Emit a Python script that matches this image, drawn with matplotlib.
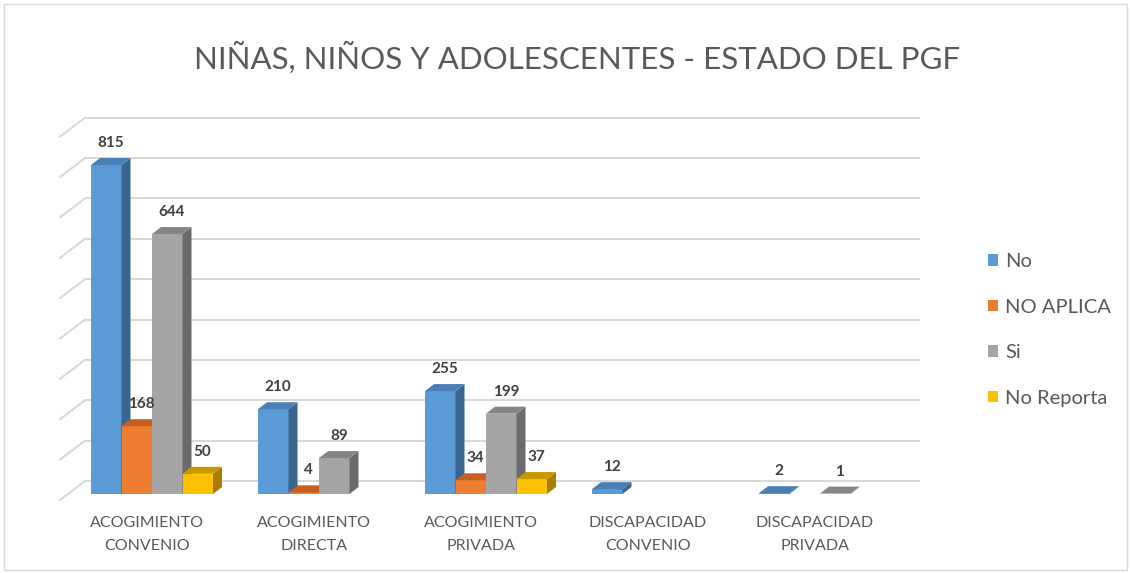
import numpy as np
import matplotlib.pyplot as plt
from matplotlib.patches import Polygon, Rectangle, Patch

# data
categories = [("ACOGIMIENTO", "CONVENIO"), ("ACOGIMIENTO", "DIRECTA"),
              ("ACOGIMIENTO", "PRIVADA"), ("DISCAPACIDAD", "CONVENIO"),
              ("DISCAPACIDAD", "PRIVADA")]
series_names = ["No", "NO APLICA", "Si", "No Reporta"]
no = [815, 210, 255, 12, 2]
no_aplica = [168, 4, 34, 0, 0]
si = [644, 89, 199, 0, 1]
no_reporta = [50, 0, 37, 0, 0]
y_ticks = np.arange(0, 901, 100)
title = "NIÑAS, NIÑOS Y ADOLESCENTES - ESTADO DEL PGF"

series = [no, no_aplica, si, no_reporta]
front_colors = ["#5b9bd5", "#ed7d31", "#a5a5a5", "#ffc000"]
top_colors = ["#4a7fb5", "#c55f1f", "#858585", "#c99700"]
side_colors = ["#3a6590", "#a84f12", "#6b6b6b", "#a87e00"]
text_col = "#595959"

W, H = 1131, 573
fig = plt.figure(figsize=(W / 100, H / 100), dpi=100)

# front plane of the plot, in pixels from top-left
left_px, right_px = 68.5, 903.5
base_px, top_px = 494.0, 130.7
ax = fig.add_axes([left_px / W, 1 - base_px / H,
                   (right_px - left_px) / W, (base_px - top_px) / H])
ax.set_xlim(-0.5, len(categories) - 0.5)
ax.set_ylim(0, 900)
ax.axis("off")

kx = (right_px - left_px) / len(categories)   # px per category
ky = (base_px - top_px) / 900.0                # px per unit

# back wall gridlines + left side wall slant
back_up = 13 / ky
x_back_l = (85 - left_px) / kx - 0.5
x_back_r = (920 - left_px) / kx - 0.5
x_side = (60 - left_px) / kx - 0.5
for v in y_ticks:
    yb = v + back_up
    ax.plot([x_back_l, x_back_r], [yb, yb], color="#d9d9d9", lw=1.5,
            zorder=0, clip_on=False, solid_capstyle="butt")
    ax.plot([x_side, x_back_l], [yb - 19 / ky, yb], color="#d9d9d9", lw=1.5,
            zorder=0, clip_on=False)

# bars with a bit of depth
bw = 30.5 / kx
ddx = 9 / kx
ddy = 7 / ky
x = np.arange(len(categories))
z = 2
for g in range(len(categories)):
    for i, vals in enumerate(series):
        v = vals[g]
        if v == 0:
            continue
        x0 = x[g] + (i - 2) * bw
        x1 = x0 + bw
        ax.bar(x0, v, bw, align="edge", color=front_colors[i], zorder=z,
               clip_on=False)
        ax.add_patch(Polygon([(x1, 0), (x1 + ddx, ddy), (x1 + ddx, v + ddy), (x1, v)],
                             closed=True, color=side_colors[i], zorder=z,
                             clip_on=False, lw=0))
        ax.add_patch(Polygon([(x0, v), (x1, v), (x1 + ddx, v + ddy), (x0 + ddx, v + ddy)],
                             closed=True, color=top_colors[i], zorder=z,
                             clip_on=False, lw=0))
        ax.text(x0 + bw / 2 + ddx / 2, v + 22 / ky, str(v), ha="center",
                va="center", fontsize=11, fontweight="bold", color="#404040",
                family="Lato", zorder=20, clip_on=False)
        z += 1

# category labels
for g, (l1, l2) in enumerate(categories):
    ax.annotate(l1, (x[g], 0), xytext=(-5, -29), textcoords="offset pixels",
                ha="center", va="center", fontsize=11.5, color=text_col,
                family="Lato", annotation_clip=False)
    ax.annotate(l2, (x[g], 0), xytext=(-5, -52), textcoords="offset pixels",
                ha="center", va="center", fontsize=11.5, color=text_col,
                family="Lato", annotation_clip=False)

# title
fig.text(577 / W, 1 - 58 / H, title, ha="center", va="center", fontsize=22.5,
         color=text_col, family="Lato")

# legend
handles = [Patch(facecolor=c, edgecolor="none") for c in front_colors]
leg = fig.legend(handles, series_names, loc="center left",
                 bbox_to_anchor=(970 / W, 1 - 330 / H), frameon=False,
                 handlelength=0.5, handleheight=0.5, handletextpad=0.35,
                 labelspacing=1.42, prop={"family": "Lato", "size": 14.5})
for t in leg.get_texts():
    t.set_color(text_col)

# outer chart border
fig.patches.append(Rectangle((4 / W, 3 / H), 1 - 8 / W, 1 - 7 / H,
                             transform=fig.transFigure, fill=False,
                             edgecolor="#d9d9d9", lw=1))

fig.savefig("out.png", dpi=100)
